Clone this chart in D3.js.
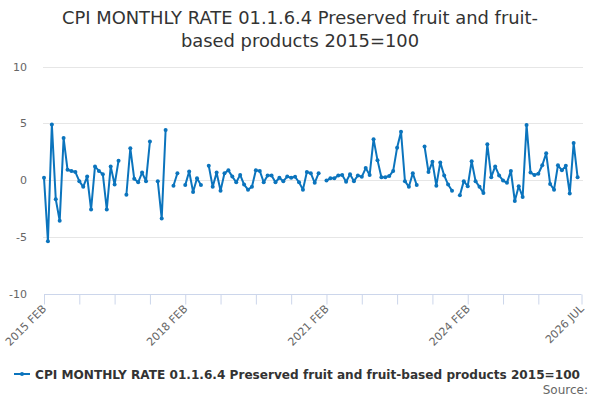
<!DOCTYPE html>
<html>
<head>
<meta charset="utf-8">
<script src="https://cdn.jsdelivr.net/npm/d3@7"></script>
<style>
  body { margin: 0; background: #fff; }
  svg { display: block; font-family: "DejaVu Sans", sans-serif; }
</style>
</head>
<body>
<svg id="chart" width="600" height="400"></svg>
<script>
const titleLines = ["CPI MONTHLY RATE 01.1.6.4 Preserved fruit and fruit-", "based products 2015=100"];
const seriesName = "CPI MONTHLY RATE 01.1.6.4 Preserved fruit and fruit-based products 2015=100";
const startMonth = "2015-02";
const endMonth = "2026-07";
const values = [
  0.2, -5.4, 4.9, -1.7, -3.6, 3.7, 0.9, 0.8, 0.7, -0.1,
  -0.6, 0.3, -2.6, 1.2, 0.8, 0.5, -2.6, 1.2, -0.4, 1.7,
  null, -1.3, 2.8, 0.1, -0.2, 0.65, -0.1, 3.4, null, -0.1,
  -3.4, 4.4, null, -0.5, 0.6, null, -0.45, 0.75, -1.05, 0.15,
  -0.45, null, 1.25, -0.6, 0.65, -0.95, 0.6, 0.85, 0.3, -0.2,
  0.45, -0.4, -0.85, -0.6, 0.85, 0.8, -0.2, 0.4, 0.4, -0.2,
  0.2, -0.1, 0.3, 0.2, 0.28, -0.2, -0.85, 0.7, 0.6, -0.25,
  0.6, null, -0.05, 0.15, 0.15, 0.4, 0.45, -0.15, 0.5, -0.1,
  0.4, 0.28, 1.05, 0.45, 3.6, 1.75, 0.25, 0.25, 0.35, 0.8,
  2.85, 4.25, -0.1, -0.6, 0.6, -0.45, null, 2.95, 0.7, 1.6,
  -0.5, 1.55, 0.4, -0.4, -0.95, null, -1.35, -0.1, -0.55, 1.65,
  -0.1, -0.6, -1.15, 3.15, 0.25, 1.2, 0.4, -0.05, -0.25, 0.8,
  -1.85, -0.55, -1.5, 4.85, 0.65, 0.45, 0.55, 1.3, 2.35, -0.35,
  -0.85, 1.3, 0.85, 1.25, -1.2, 3.25, 0.25
];
const yTicks = [-10, -5, 0, 5, 10];
const xTickLabels = ["2015 FEB", "2018 FEB", "2021 FEB", "2024 FEB", "2026 JUL"];
const sourceText = "Source:";

const monthNames = ["JAN","FEB","MAR","APR","MAY","JUN","JUL","AUG","SEP","OCT","NOV","DEC"];
const parse = s => { const [y, m] = s.split("-").map(Number); return y * 12 + (m - 1); };
const m0 = parse(startMonth), m1 = parse(endMonth);
const fmt = idx => { const t = m0 + idx; return Math.floor(t / 12) + " " + monthNames[t % 12]; };
const data = values.map((v, i) => ({ i, v }));

const svg = d3.select("#chart");
const x = d3.scaleLinear().domain([0, m1 - m0]).range([44, 581.5]);
const y = d3.scaleLinear().domain([-10, 10]).range([293.5, 66.5]);

// title
svg.append("text").attr("x", 300).attr("y", 24).attr("text-anchor", "middle")
  .attr("fill", "#333").style("font-size", "17.9px")
  .selectAll("tspan").data(titleLines).join("tspan")
  .attr("x", 300).attr("dy", (d, i) => i === 0 ? 0 : 22.5).text(d => d);

// gridlines
svg.append("g").selectAll("line").data(yTicks.filter(t => t !== -10)).join("line")
  .attr("x1", 43).attr("x2", 583).attr("y1", d => Math.round(y(d)) + 0.5).attr("y2", d => Math.round(y(d)) + 0.5)
  .attr("stroke", "#e6e6e6").attr("stroke-width", 1);

// y labels
svg.append("g").selectAll("text").data(yTicks).join("text")
  .attr("x", 27).attr("y", d => y(d) + 4).attr("text-anchor", "end")
  .attr("fill", "#666").style("font-size", "11px").text(d => d);

// x axis
const tickIdx = [];
for (let k = 0; k <= m1 - m0 - 9; k += 9) tickIdx.push(k);
tickIdx.push(m1 - m0);
const xAxis = d3.axisBottom(x).tickValues(tickIdx).tickSize(10).tickFormat("");
const gx = svg.append("g").attr("transform", `translate(0,${Math.round(y(-10)) + 0.5})`).call(xAxis);
gx.select(".domain").attr("stroke", "#ccd6eb").attr("d", `M${x(0)},0H${x(m1 - m0)}`);
gx.selectAll(".tick line").attr("stroke", "#ccd6eb");
const labelIdx = tickIdx.filter(k => xTickLabels.includes(fmt(k)));
svg.append("g").selectAll("text").data(labelIdx).join("text")
  .attr("transform", d => `translate(${x(d) + 3},${y(-10) + 16}) rotate(-45)`)
  .attr("text-anchor", "end").attr("fill", "#666").style("font-size", "11px")
  .text(d => fmt(d));

// line
const color = "#0b74bd";
const line = d3.line().defined(d => d.v !== null).x(d => x(d.i)).y(d => y(d.v));
svg.append("path").datum(data).attr("d", line).attr("fill", "none")
  .attr("stroke", color).attr("stroke-width", 2).attr("stroke-linejoin", "round");
svg.append("g").selectAll("circle").data(data.filter(d => d.v !== null)).join("circle")
  .attr("cx", d => x(d.i)).attr("cy", d => y(d.v)).attr("r", 2).attr("fill", color);

// legend
const lg = svg.append("g").attr("transform", "translate(0,374)");
lg.append("line").attr("x1", 14).attr("x2", 30).attr("y1", 0).attr("y2", 0)
  .attr("stroke", color).attr("stroke-width", 2);
lg.append("circle").attr("cx", 22).attr("cy", 0).attr("r", 2).attr("fill", color);
lg.append("text").attr("x", 35).attr("y", 4.5).attr("fill", "#333")
  .style("font-size", "12.1px").style("font-weight", "bold").text(seriesName);

svg.append("text").attr("x", 588).attr("y", 394).attr("text-anchor", "end")
  .attr("fill", "#666").style("font-size", "12px").text(sourceText);
</script>
</body>
</html>
